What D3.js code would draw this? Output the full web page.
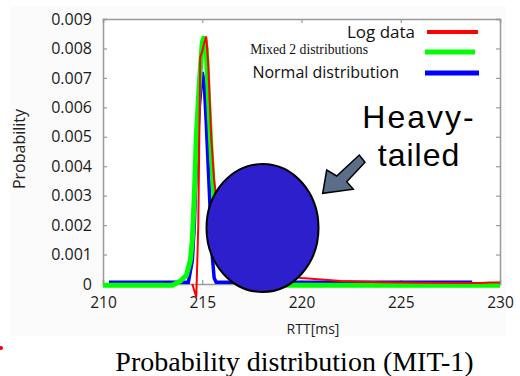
<!DOCTYPE html>
<html><head><meta charset="utf-8">
<script src="https://cdn.jsdelivr.net/npm/d3@7"></script>
<style>body{margin:0;background:#fff}svg{display:block}</style>
</head><body>
<svg id="c" width="520" height="376"></svg>
<script>
// ---- data ----
const xTicks = [210, 215, 220, 225, 230];
const yTicks = [0, 0.001, 0.002, 0.003, 0.004, 0.005, 0.006, 0.007, 0.008, 0.009];
const seriesNames = ["Log data", "Mixed 2 distributions", "Normal distribution"];
const seriesColors = ["#ff0000", "#00ff00", "#0000ff"];

const logX = [214.5, 214.7, 214.8, 214.9, 215.0, 215.1, 215.2, 215.3, 215.45, 215.6, 215.8, 216.0, 216.5, 217, 218, 219, 220, 221, 222, 224, 226, 228, 229, 229.5, 230];
const logY = [0, -0.00045, 0.002, 0.0077, 0.0079, 0.0082, 0.0084, 0.0075, 0.005, 0.0035, 0.0025, 0.0018, 0.001, 0.0006, 0.0004, 0.0003, 0.0002, 0.00015, 0.0001, 0.00006, 0.00004, 0.00003, 0.00003, 0.00005, 0.00005];

const mixX = [210, 213.5, 213.9, 214.2, 214.4, 214.5, 214.6, 214.7, 214.85, 215.0, 215.1, 215.2, 215.3, 215.45, 215.6, 215.8, 216.0, 216.3, 216.8, 217.5, 230];
const mixY = [-0.00004, -0.00004, 0.0001, 0.0003, 0.0008, 0.0015, 0.003, 0.005, 0.0068, 0.0082, 0.0084, 0.008, 0.0065, 0.0045, 0.0028, 0.0015, 0.0008, 0.0003, 0.0001, -0.00004, -0.00004];

const normX = [210.3, 214.3, 214.5, 214.6, 214.7, 214.85, 215.0, 215.1, 215.2, 215.3, 215.4, 215.5, 215.6, 215.7, 228.6];
const normY = [0.00006, 0.00006, 0.0008, 0.002, 0.004, 0.006, 0.0072, 0.0068, 0.0055, 0.004, 0.0025, 0.001, 0.0002, 0.00006, 0.00006];

const title = "Probability distribution (MIT-1)";
const xLabel = "RTT[ms]";
const yLabel = "Probability";
const note = ["Heavy-", "tailed"];

// ---- layout ----
const svg = d3.select("#c");
const L = 103, R = 500, T = 19, B = 284;
const x = d3.scaleLinear().domain([210, 230]).range([L, R]);
const y = d3.scaleLinear().domain([0, 0.009]).range([B, T]);

svg.append("rect").attr("x", 10).attr("y", 6).attr("width", 496).attr("height", 330).attr("fill", "#fbfbfb");
svg.append("rect").attr("x", L).attr("y", T).attr("width", R - L).attr("height", B - T).attr("fill", "#fff");

const gray = "#9a9a9a";
const fontSans = "'Open Sans', 'DejaVu Sans', sans-serif";

// axes
const ax = svg.append("g").attr("transform", `translate(0,${B})`)
  .call(d3.axisBottom(x).tickValues(xTicks).tickSize(-4).tickPadding(13).tickFormat(d3.format("d")));
const ay = svg.append("g").attr("transform", `translate(${L},0)`)
  .call(d3.axisLeft(y).tickValues(yTicks).tickSize(-4).tickPadding(11).tickFormat(d => d === 0 ? "0" : d3.format(".3f")(d)));
const axT = svg.append("g").attr("transform", `translate(0,${T})`)
  .call(d3.axisTop(x).tickValues(xTicks).tickSize(-4).tickFormat(""));
const ayR = svg.append("g").attr("transform", `translate(${R},0)`)
  .call(d3.axisRight(y).tickValues(yTicks).tickSize(-4).tickFormat(""));
[axT, ayR, ax, ay].forEach(g => {
  g.selectAll("path.domain").attr("stroke", gray).attr("stroke-width", 1.5);
  g.selectAll(".tick line").attr("stroke", gray).attr("stroke-width", 1.2);
});
ay.selectAll(".tick text").attr("font-family", fontSans).attr("font-size", 16).attr("fill", "#1a1a1a");
ax.selectAll(".tick text").attr("font-family", fontSans).attr("font-size", 15.5).attr("fill", "#1a1a1a");

svg.append("text").attr("x", 313).attr("y", 334).attr("text-anchor", "middle")
  .attr("font-family", fontSans).attr("font-size", 14).attr("fill", "#222").text(xLabel);
svg.append("text").attr("transform", "translate(25,149) rotate(-90)").attr("text-anchor", "middle")
  .attr("font-family", fontSans).attr("font-size", 16).attr("fill", "#222").text(yLabel);

// lines
const line = d3.line().x(d => x(d[0])).y(d => y(d[1]));
const lines = svg.append("g");
lines.append("path").datum(d3.zip(normX, normY)).attr("d", line)
  .attr("fill", "none").attr("stroke", seriesColors[2]).attr("stroke-width", 3.5);
lines.append("path").datum(d3.zip(mixX, mixY)).attr("d", line)
  .attr("fill", "none").attr("stroke", seriesColors[1]).attr("stroke-width", 5);
lines.append("path").datum(d3.zip(logX, logY)).attr("d", line)
  .attr("fill", "none").attr("stroke", seriesColors[0]).attr("stroke-width", 2);

// legend
const leg = [
  {t: seriesNames[0], ty: 38, tx: 415, y: 32, ff: fontSans, fs: 17, x1: 427, x2: 478, sw: 4},
  {t: seriesNames[1], ty: 54, tx: 368, y: 52, ff: "'Liberation Serif', serif", fs: 13.7, x1: 425, x2: 475, sw: 5},
  {t: seriesNames[2], ty: 78, tx: 399, y: 73, ff: fontSans, fs: 16, x1: 425, x2: 479, sw: 5}
];
leg.forEach((d, i) => {
  svg.append("text").attr("x", d.tx).attr("y", d.ty)
    .attr("text-anchor", "end").attr("font-family", d.ff).attr("font-size", d.fs).attr("fill", "#111").text(d.t);
  svg.append("line").attr("x1", d.x1).attr("x2", d.x2).attr("y1", d.y).attr("y2", d.y)
    .attr("stroke", seriesColors[i]).attr("stroke-width", d.sw);
});

// annotation
svg.append("ellipse").attr("cx", 262.5).attr("cy", 228).attr("rx", 56).attr("ry", 64)
  .attr("fill", "#2e1fcc").attr("stroke", "#000").attr("stroke-width", 2);
svg.append("polygon")
  .attr("points", "322.7,193.3 326.7,170 336.7,176 359.3,155 365,162.3 346.7,181.7 353.3,189.3")
  .attr("fill", "#5a6e8a").attr("stroke", "#000").attr("stroke-width", 1.5).attr("stroke-linejoin", "miter");
svg.append("text").attr("x", 419).attr("y", 128).attr("text-anchor", "middle")
  .attr("font-family", "'Liberation Sans', Arial, sans-serif").attr("font-size", 32).attr("letter-spacing", 2).attr("fill", "#000").text(note[0]);
svg.append("text").attr("x", 419).attr("y", 166).attr("text-anchor", "middle")
  .attr("font-family", "'Liberation Sans', Arial, sans-serif").attr("font-size", 32).attr("letter-spacing", 1).attr("fill", "#000").text(note[1]);

svg.append("text").attr("x", 294.5).attr("y", 371).attr("text-anchor", "middle")
  .attr("font-family", "'Liberation Serif', 'Times New Roman', serif").attr("font-size", 28).attr("fill", "#000").text(title);

svg.append("circle").attr("cx", 1).attr("cy", 348).attr("r", 2).attr("fill", "#ff0000");
</script>
</body></html>
